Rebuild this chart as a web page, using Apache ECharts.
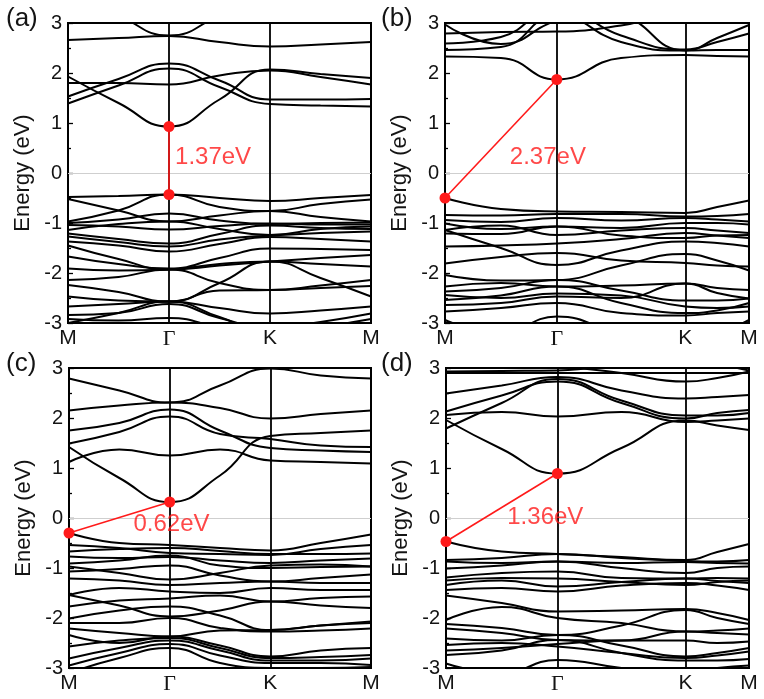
<!DOCTYPE html>
<html>
<head>
<meta charset="utf-8">
<script src="https://cdn.jsdelivr.net/npm/echarts@6.0.0/dist/echarts.min.js"></script>
<style>
  html, body { margin: 0; background: #fff; }
  #chart { width: 764px; height: 699px; }
</style>
</head>
<body>
<div id="chart"></div>
<script>
// high-symmetry labels
const symLabels = ['M', 'Γ', 'K', 'M']

// k positions of M, Γ, K, M for each panel
const symA = [0, 1, 2, 3]
const symB = [0, 1, 2.15, 2.72]
const symC = [0, 1, 2, 3]
const symD = [0, 1, 2.15, 2.72]

// sampling points along the path (M, mid, Γ, mid, K, mid, M)
const kA = [0, 0.5, 1, 1.5, 2, 2.5, 3]
const kB = [0, 0.5, 1, 1.575, 2.15, 2.435, 2.72]
const kC = [0, 0.5, 1, 1.5, 2, 2.5, 3]
const kD = [0, 0.5, 1, 1.575, 2.15, 2.435, 2.72]

// band energies (eV) at the sampling points
const bandsA = [
  [3.6, 3.15, 2.75, 3.15, 3.6, 3.6, 3.6],
  [2.66, 2.7, 2.74, 2.62, 2.53, 2.57, 2.62],
  [1.93, 1.4, 0.93, 1.47, 2.07, 1.98, 1.9],
  [1.8, 1.8, 1.77, 1.95, 2.05, 1.92, 1.77],
  [1.53, 1.88, 2.19, 1.85, 1.47, 1.47, 1.48],
  [1.39, 1.75, 2.09, 1.72, 1.38, 1.35, 1.33],
  [-0.48, -0.46, -0.43, -0.5, -0.56, -0.5, -0.44],
  [-0.97, -0.75, -0.43, -0.68, -0.76, -0.62, -0.53],
  [-0.52, -0.75, -0.97, -0.85, -0.76, -0.88, -0.97],
  [-1.0, -0.93, -0.81, -0.95, -1.02, -1.0, -0.99],
  [-1.04, -1.07, -1.13, -1.06, -1.01, -1.03, -1.03],
  [-1.14, -1.02, -0.97, -1.12, -1.24, -1.12, -1.07],
  [-1.21, -1.32, -1.41, -1.22, -1.05, -1.1, -1.12],
  [-1.27, -1.38, -1.47, -1.33, -1.25, -1.2, -1.17],
  [-1.37, -1.45, -1.57, -1.42, -1.28, -1.32, -1.37],
  [-1.67, -1.82, -1.91, -1.7, -1.51, -1.52, -1.54],
  [-1.45, -1.72, -1.93, -1.85, -1.77, -1.7, -1.64],
  [-1.91, -1.95, -1.93, -1.82, -1.77, -1.82, -1.87],
  [-2.14, -2.08, -1.93, -2.2, -2.34, -2.25, -2.14],
  [-2.24, -2.38, -2.57, -2.35, -2.34, -2.3, -2.26],
  [-2.47, -2.55, -2.57, -2.2, -1.77, -2.1, -2.47],
  [-2.67, -2.62, -2.57, -2.7, -2.81, -2.75, -2.67],
  [-2.84, -2.8, -2.62, -2.9, -3.1, -2.98, -2.81],
  [-3.0, -2.8, -2.57, -2.88, -3.2, -3.2, -3.2],
  [-2.92, -2.95, -2.9, -3.1, -3.3, -3.1, -2.92],
]

const bandsB = [
  [2.33, 2.3, 1.87, 2.3, 2.36, 2.34, 2.33],
  [2.79, 2.82, 2.83, 2.95, 3.2, 3.2, 3.2],
  [2.97, 2.58, 3.05, 3.3, 3.3, 3.3, 3.3],
  [2.59, 2.72, 3.3, 2.75, 2.47, 2.62, 2.79],
  [2.46, 2.52, 3.15, 2.62, 2.45, 2.46, 2.46],
  [3.3, 3.3, 3.3, 3.15, 2.45, 2.7, 2.96],
  [-0.5, -0.72, -0.77, -0.78, -0.8, -0.68, -0.55],
  [-0.84, -0.85, -0.82, -0.82, -0.87, -0.86, -0.82],
  [-0.94, -0.98, -0.9, -0.95, -0.9, -0.93, -0.97],
  [-1.01, -1.12, -1.07, -1.1, -1.0, -1.0, -1.03],
  [-1.14, -1.05, -1.24, -1.15, -1.1, -1.15, -1.2],
  [-1.21, -1.22, -1.07, -1.25, -1.3, -1.25, -1.24],
  [-1.47, -1.45, -1.41, -1.32, -1.2, -1.25, -1.3],
  [-1.14, -1.5, -1.84, -1.55, -1.37, -1.4, -1.47],
  [-1.81, -1.68, -1.6, -1.75, -1.8, -1.85, -1.87],
  [-2.04, -2.15, -2.14, -1.85, -1.62, -1.75, -1.95],
  [-2.27, -2.2, -2.27, -2.25, -2.21, -2.3, -2.34],
  [-2.37, -2.3, -2.14, -2.35, -2.55, -2.55, -2.51],
  [-2.44, -2.5, -2.41, -2.45, -2.67, -2.7, -2.67],
  [-2.54, -2.45, -2.27, -2.6, -2.8, -2.75, -2.6],
  [-2.64, -2.6, -2.47, -2.5, -2.21, -2.4, -2.51],
  [-2.77, -2.7, -2.6, -2.8, -2.85, -2.8, -2.77],
  [-2.94, -3.2, -2.87, -3.2, -3.3, -3.2, -2.94],
]

const bandsC = [
  [2.79, 2.55, 2.31, 2.65, 2.99, 2.85, 2.79],
  [2.15, 2.25, 2.31, 2.2, 1.99, 2.08, 2.15],
  [1.42, 0.8, 0.32, 0.85, 1.64, 1.7, 1.75],
  [1.75, 1.9, 2.17, 1.75, 1.4, 1.35, 1.32],
  [1.49, 1.72, 2.03, 1.68, 1.58, 1.45, 1.42],
  [1.12, 1.37, 1.25, 1.37, 1.15, 1.12, 1.09],
  [-0.3, -0.5, -0.54, -0.6, -0.65, -0.5, -0.33],
  [-0.54, -0.6, -0.7, -0.72, -0.74, -0.62, -0.54],
  [-0.67, -0.62, -0.6, -0.66, -0.72, -0.72, -0.71],
  [-0.77, -0.8, -0.78, -0.85, -0.9, -0.85, -0.81],
  [-0.91, -0.85, -0.75, -0.95, -1.0, -0.98, -0.97],
  [-0.97, -1.1, -1.23, -1.1, -0.95, -0.93, -0.97],
  [-1.07, -1.02, -0.95, -1.15, -1.27, -1.2, -1.13],
  [-1.21, -1.25, -1.34, -1.3, -1.27, -1.3, -1.3],
  [-1.54, -1.4, -1.47, -1.5, -1.4, -1.44, -1.44],
  [-1.77, -1.65, -1.61, -1.55, -1.67, -1.6, -1.57],
  [-1.54, -1.75, -1.97, -1.85, -1.67, -1.75, -1.8],
  [-2.01, -1.85, -1.77, -1.95, -2.24, -2.15, -2.07],
  [-2.1, -2.1, -2.0, -2.2, -2.27, -2.25, -2.21],
  [-2.21, -2.3, -2.37, -2.25, -2.24, -2.15, -2.1],
  [-2.34, -2.5, -2.37, -2.55, -2.77, -2.65, -2.6],
  [-2.57, -2.45, -2.4, -2.6, -2.8, -2.78, -2.74],
  [-2.81, -2.6, -2.45, -2.65, -2.85, -2.85, -2.81],
  [-2.95, -2.7, -2.52, -2.75, -2.9, -2.9, -2.94],
  [-3.1, -2.8, -2.6, -2.9, -3.0, -3.0, -2.98],
]

const bandsD = [
  [2.93, 2.94, 2.95, 3.1, 3.3, 3.1, 2.95],
  [2.9, 2.9, 2.9, 2.9, 2.9, 2.9, 2.9],
  [2.49, 2.65, 2.82, 2.55, 2.39, 2.42, 2.46],
  [3.3, 3.2, 3.05, 2.9, 2.73, 2.8, 2.93],
  [2.13, 2.45, 2.73, 2.3, 1.99, 2.1, 2.16],
  [2.06, 2.12, 2.03, 2.12, 1.92, 1.95, 1.99],
  [1.96, 1.38, 0.89, 1.4, 1.95, 1.85, 1.76],
  [1.79, 2.3, 2.78, 2.35, 2.05, 2.05, 2.1],
  [-0.47, -0.67, -0.72, -0.78, -0.84, -0.68, -0.52],
  [-0.84, -0.8, -0.72, -0.8, -0.86, -0.87, -0.84],
  [-0.87, -0.9, -0.87, -0.9, -0.88, -0.9, -0.91],
  [-1.01, -0.95, -0.87, -1.0, -1.1, -1.0, -0.97],
  [-1.19, -1.1, -1.07, -1.2, -1.21, -1.2, -1.21],
  [-1.25, -1.2, -1.21, -1.28, -1.34, -1.28, -1.25],
  [-1.34, -1.25, -1.37, -1.28, -1.21, -1.26, -1.3],
  [-1.44, -1.4, -1.47, -1.35, -1.3, -1.35, -1.44],
  [-1.55, -1.7, -1.87, -1.85, -1.82, -1.9, -2.04],
  [-2.04, -1.78, -2.0, -2.1, -2.27, -2.25, -2.21],
  [-2.12, -2.2, -2.34, -2.15, -1.84, -2.0, -2.12],
  [-2.21, -2.3, -2.44, -2.45, -2.27, -2.3, -2.33],
  [-2.41, -2.45, -2.34, -2.55, -2.77, -2.7, -2.6],
  [-2.54, -2.5, -2.57, -2.7, -2.8, -2.75, -2.67],
  [-2.74, -2.65, -2.44, -2.7, -2.85, -2.85, -2.82],
  [-2.91, -3.1, -2.84, -3.0, -3.1, -3.0, -2.95],
  [-2.65, -2.6, -2.52, -2.45, -2.45, -2.5, -2.47],
]

// gap endpoints [k, E] (VBM, CBM)
const gapA = [[1, -0.43], [1, 0.93]]
const gapB = [[0, -0.5], [1, 1.87]]
const gapC = [[0, -0.3], [1, 0.32]]
const gapD = [[0, -0.47], [1, 0.89]]

const gapText = ['1.37eV', '2.37eV', '0.62eV', '1.36eV']
// anchor [k, E] for left edge of the gap text
const gapTextAt = [[1.06, 0.32], [0.58, 0.32], [0.64, -0.12], [0.55, 0.02]]

const panelNames = ['(a)', '(b)', '(c)', '(d)']

const panels = [
  { k: kA, sym: symA, bands: bandsA, gap: gapA, box: [68, 23, 303, 300] },
  { k: kB, sym: symB, bands: bandsB, gap: gapB, box: [445, 23, 304, 300] },
  { k: kC, sym: symC, bands: bandsC, gap: gapC, box: [69, 368, 302, 300] },
  { k: kD, sym: symD, bands: bandsD, gap: gapD, box: [446, 368, 303, 300] },
]

const font = 'Liberation Sans, Arial, sans-serif'
const red = '#ff1a1a'
const ink = '#141414'

const grid = []
const xAxis = []
const yAxis = []
const series = []
const title = []

panels.forEach((p, i) => {
  const [left, top, width, height] = p.box
  grid.push({ left, top, width, height, show: true, borderColor: '#000', borderWidth: 2, backgroundColor: 'transparent' })

  const xmax = p.sym[p.sym.length - 1]
  xAxis.push({
    gridIndex: i,
    type: 'value',
    min: 0,
    max: xmax,
    axisLine: { show: false },
    axisTick: { show: false },
    splitLine: { show: false },
    axisLabel: {
      customValues: p.sym,
      showMinLabel: true,
      showMaxLabel: true,
      hideOverlap: false,
      margin: 5,
      color: ink,
      fontFamily: font,
      fontSize: 21,
      formatter: (v) => {
        const idx = p.sym.findIndex((s) => Math.abs(s - v) < 1e-6)
        const name = symLabels[idx] || ''
        return name === 'Γ' ? '{g|Γ}' : name
      },
      rich: { g: { fontFamily: 'Liberation Serif, serif', fontSize: 22, color: ink } },
    },
  })

  yAxis.push({
    gridIndex: i,
    type: 'value',
    min: -3,
    max: 3,
    interval: 1,
    name: 'Energy (eV)',
    nameLocation: 'middle',
    nameRotate: 90,
    nameGap: 34,
    nameTextStyle: { fontFamily: font, fontSize: 22, color: ink },
    axisLine: { show: false },
    axisTick: { show: true, inside: true, length: 5, lineStyle: { color: '#000', width: 1.3 } },
    minorTick: { show: true, splitNumber: 2, length: 3, lineStyle: { color: '#000', width: 1.3 } },
    splitLine: { show: false },
    axisLabel: { margin: 6, color: ink, fontFamily: font, fontSize: 20 },
  })

  // bands
  p.bands.forEach((band, b) => {
    series.push({
      type: 'line',
      xAxisIndex: i,
      yAxisIndex: i,
      data: p.k.map((x, j) => [x, band[j]]),
      smooth: 0.5,
      showSymbol: false,
      silent: true,
      clip: true,
      lineStyle: { color: '#000', width: 2 },
      z: 3,
      markLine: b === 0 ? {
        silent: true,
        symbol: 'none',
        label: { show: false },
        data: [
          { yAxis: 0, lineStyle: { color: '#cfcfcf', width: 1, type: 'solid' } },
          { xAxis: p.sym[1], lineStyle: { color: '#000', width: 1.8, type: 'solid' } },
          { xAxis: p.sym[2], lineStyle: { color: '#000', width: 1.8, type: 'solid' } },
        ],
      } : undefined,
    })
  })

  // gap line
  series.push({
    type: 'line',
    xAxisIndex: i,
    yAxisIndex: i,
    data: p.gap,
    symbol: 'circle',
    symbolSize: 11,
    showSymbol: true,
    silent: true,
    clip: false,
    lineStyle: { color: red, width: 1.6 },
    itemStyle: { color: red },
    z: 10,
  })

  // gap text
  series.push({
    type: 'scatter',
    xAxisIndex: i,
    yAxisIndex: i,
    data: [gapTextAt[i]],
    symbolSize: 0,
    silent: true,
    z: 11,
    label: {
      show: true,
      position: 'right',
      distance: 0,
      formatter: gapText[i],
      color: red,
      fontFamily: font,
      fontSize: 24,
    },
  })

  title.push({
    text: panelNames[i],
    left: i % 2 === 0 ? 1 : 376,
    top: i < 2 ? 1 : 346,
    textStyle: { fontFamily: font, fontSize: 26, fontWeight: 'normal', color: ink },
  })
})

const chart = echarts.init(document.getElementById('chart'), null, { renderer: 'canvas' })
chart.setOption({
  animation: false,
  backgroundColor: '#fff',
  title,
  grid,
  xAxis,
  yAxis,
  series,
})
</script>
</body>
</html>
